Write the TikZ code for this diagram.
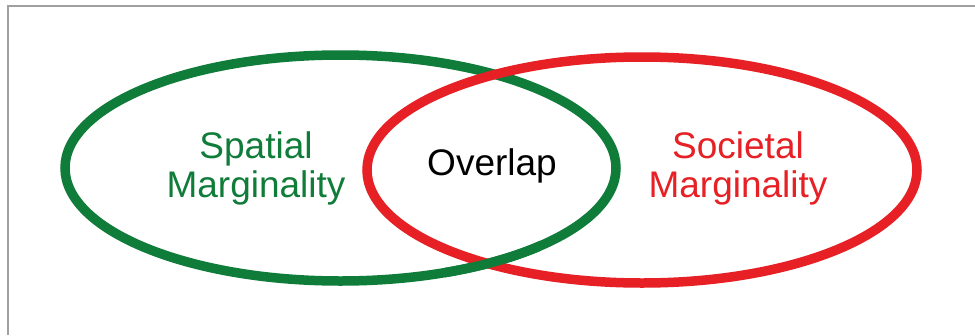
\documentclass[tikz,border=0pt]{standalone}
\usepackage{fontspec}
\setmainfont{Liberation Sans}
\definecolor{vgreen}{RGB}{16,124,58}
\definecolor{vred}{RGB}{230,32,36}
\definecolor{frame}{RGB}{160,160,160}
\begin{document}
\begin{tikzpicture}[x=1pt,y=-1pt,
  ring/.style={line width=9.5pt},
  lbl/.style={align=center,inner sep=0pt,font=\fontsize{37}{39}\selectfont}]
\useasboundingbox (0,0) rectangle (975,335);
\fill[white] (0,0) rectangle (975,335);
\coordinate (tl) at (7.5,5.5);
\coordinate (tr) at (975,5.5);
\coordinate (bl) at (7.5,335);
\draw[frame,line width=2pt] (bl) -- (tl) -- (tr);
\coordinate (gc) at (340.5,168);
\coordinate (rc) at (642,170);
\draw[ring,vgreen] (gc) ellipse [x radius=275.5, y radius=113];
\draw[ring,vred] (rc) ellipse [x radius=275, y radius=113];
\begin{scope}
  \clip (445,235) rectangle (540,300);
  \draw[ring,vgreen] (gc) ellipse [x radius=275.5, y radius=113];
\end{scope}
\node[lbl,text=vgreen] (spatial) at (256,168) {Spatial\\Marginality};
\node[lbl,text=vred] (societal) at (738,168) {Societal\\Marginality};
\node[lbl,text=black] (overlap) at (492,166) {Overlap};
\end{tikzpicture}
\end{document}
